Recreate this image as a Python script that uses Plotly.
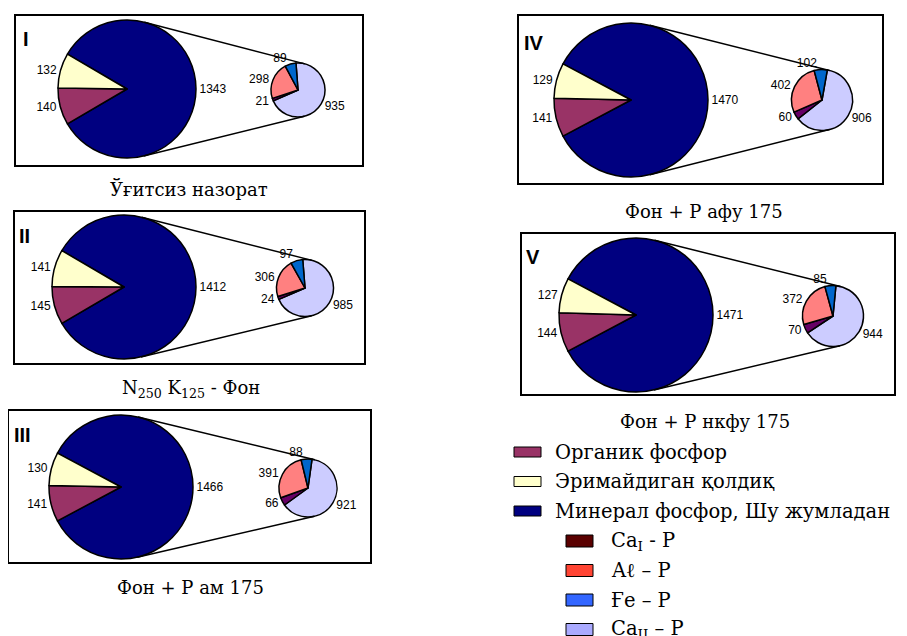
import math
import plotly.graph_objects as go

W, H = 907, 636
OFF = 8  # the page body adds an 8px margin; compensate so content lands where the reference has it

# ---------------- data ----------------
panel_ids = ["I", "II", "III", "IV", "V"]
captions = ["Ўғитсиз назорат",
            "N<sub>250</sub> K<sub>125</sub> - Фон",
            "Фон + Р ам 175",
            "Фон + Р афу 175",
            "Фон + Р нкфу 175"]

main_categories = ["Органик фосфор", "Эримайдиган қолдиқ", "Минерал фосфор, Шу жумладан"]
organic = [140, 145, 141, 141, 144]
insoluble = [132, 141, 130, 129, 127]
mineral = [1343, 1412, 1466, 1470, 1471]

sub_categories = ["Ca<sub>I</sub> - P", "Aℓ – P", "Ғe – P", "Ca<sub>II</sub> – P"]
ca1 = [21, 24, 66, 60, 70]
al = [298, 306, 391, 402, 372]
fe = [89, 97, 88, 102, 85]
ca2 = [935, 985, 921, 906, 944]

# ---------------- styles ----------------
pie_main_colors = {"organic": "#993366", "insoluble": "#FFFFCC", "mineral": "#000080"}
pie_sub_colors = {"ca1": "#660066", "al": "#FF8080", "fe": "#0066CC", "ca2": "#CCCCFF"}
legend_main_colors = ["#993366", "#FFFFCC", "#000080"]
legend_sub_colors = ["#5A0000", "#FF4433", "#3366FF", "#AAAAFF"]

# layout geometry in reference pixels
geo = [
    dict(box=(15, 15, 363, 166), big=(127, 89, 69), small=(298, 90, 27), num=(21, 39), cap=(189, 189)),
    dict(box=(14, 211, 365, 364), big=(124, 287, 72), small=(305, 288, 28.5), num=(17, 236), cap=(191, 389)),
    dict(box=(8, 410, 371, 563), big=(121, 487, 72), small=(308, 488, 29), num=(12, 435), cap=(190, 587)),
    dict(box=(518, 15, 883, 184), big=(631, 100, 77), small=(822, 100, 30.5), num=(522, 43), cap=(704, 211)),
    dict(box=(521, 233, 895, 395), big=(636, 315, 77), small=(833, 316, 30.5), num=(524, 257), cap=(705, 421)),
]
SUB_CENTER_ANGLE = 121  # compass angle where the Ca_II slice is centred

LABEL_FONT = dict(family="Liberation Sans, Arial, sans-serif", size=12, color="black")
SERIF = "DejaVu Serif, serif"


def px(x):
    return (x - OFF) / W


def py(y):
    return 1 - (y - OFF) / H


def dom(cx, cy, r):
    return dict(x=[px(cx - r), px(cx + r)], y=[py(cy + r), py(cy - r)])


def norm_angle(a):
    return (a + 180) % 360 - 180


fig = go.Figure()
shapes = []
annotations = []

for i in range(5):
    g = geo[i]
    x0, y0, x1, y1 = g["box"]
    shapes.append(dict(type="rect", xref="paper", yref="paper", x0=px(x0), x1=px(x1),
                       y0=py(y1), y1=py(y0), line=dict(color="black", width=2),
                       fillcolor="white", layer="below"))

    # main pie: mineral slice centred on the right side
    vals = [mineral[i], organic[i], insoluble[i]]
    total = sum(vals)
    rot = 90 - 360 * mineral[i] / total / 2
    bcx, bcy, br = g["big"]
    fig.add_trace(go.Pie(
        values=vals, labels=["Минерал", "Органик", "Эримайдиган"],
        marker=dict(colors=[pie_main_colors["mineral"], pie_main_colors["organic"],
                            pie_main_colors["insoluble"]],
                    line=dict(color="black", width=1.5)),
        sort=False, direction="clockwise", rotation=norm_angle(rot),
        textposition="outside", texttemplate="%{value}", textfont=LABEL_FONT,
        domain=dom(bcx, bcy, br), showlegend=False, hoverinfo="label+value"))

    # secondary pie: breakdown of mineral phosphorus
    svals = [ca2[i], ca1[i], al[i], fe[i]]
    stotal = sum(svals)
    srot = SUB_CENTER_ANGLE - 360 * ca2[i] / stotal / 2
    scx, scy, sr = g["small"]
    fig.add_trace(go.Pie(
        values=svals, labels=["CaII-P", "CaI-P", "Al-P", "Fe-P"],
        marker=dict(colors=[pie_sub_colors["ca2"], pie_sub_colors["ca1"],
                            pie_sub_colors["al"], pie_sub_colors["fe"]],
                    line=dict(color="black", width=1.5)),
        sort=False, direction="clockwise", rotation=norm_angle(srot),
        textposition="outside", texttemplate="%{value}", textfont=LABEL_FONT,
        domain=dom(scx, scy, sr), showlegend=False, hoverinfo="label+value"))

    # external tangent connector lines
    dx, dy = scx - bcx, scy - bcy
    D = math.hypot(dx, dy)
    ux, uy = dx / D, dy / D
    c = (br - sr) / D
    s = math.sqrt(max(0.0, 1 - c * c))
    for sign in (1, -1):
        nx = c * ux + sign * s * (-uy)
        ny = c * uy + sign * s * ux
        shapes.append(dict(type="line", xref="paper", yref="paper",
                           x0=px(bcx + br * nx), y0=py(bcy + br * ny),
                           x1=px(scx + sr * nx), y1=py(scy + sr * ny),
                           line=dict(color="black", width=1.5)))

    nxp, nyp = g["num"]
    annotations.append(dict(text="<b>%s</b>" % panel_ids[i], x=px(nxp), y=py(nyp),
                            xref="paper", yref="paper", xanchor="left", yanchor="middle",
                            showarrow=False,
                            font=dict(family="Liberation Sans, Arial, sans-serif", size=20,
                                      color="black")))
    cxp, cyp = g["cap"]
    annotations.append(dict(text=captions[i], x=px(cxp), y=py(cyp), xref="paper", yref="paper",
                            xanchor="center", yanchor="middle", showarrow=False,
                            font=dict(family=SERIF, size=18, color="black")))

# ---------------- legend (drawn) ----------------
main_y = [452, 481.5, 511]
for k, name in enumerate(main_categories):
    yc = main_y[k]
    shapes.append(dict(type="rect", xref="paper", yref="paper", x0=px(514), x1=px(541),
                       y0=py(yc + 5), y1=py(yc - 5), fillcolor=legend_main_colors[k],
                       line=dict(color="black", width=1)))
    annotations.append(dict(text=name, x=px(553), y=py(yc), xref="paper", yref="paper",
                            xanchor="left", yanchor="middle", showarrow=False,
                            font=dict(family=SERIF, size=19.5, color="black")))

sub_y = [541, 570.5, 600, 629.5]
for k, name in enumerate(sub_categories):
    yc = sub_y[k]
    shapes.append(dict(type="rect", xref="paper", yref="paper", x0=px(566), x1=px(593),
                       y0=py(yc + 6), y1=py(yc - 6), fillcolor=legend_sub_colors[k],
                       line=dict(color="black", width=1)))
    annotations.append(dict(text=name, x=px(609), y=py(yc), xref="paper", yref="paper",
                            xanchor="left", yanchor="middle", showarrow=False,
                            font=dict(family=SERIF, size=19.5, color="black")))

fig.update_layout(width=W, height=H, margin=dict(l=0, r=0, t=0, b=0),
                  paper_bgcolor="white", plot_bgcolor="white",
                  shapes=shapes, annotations=annotations, showlegend=False)

fig.write_html("out.html")
